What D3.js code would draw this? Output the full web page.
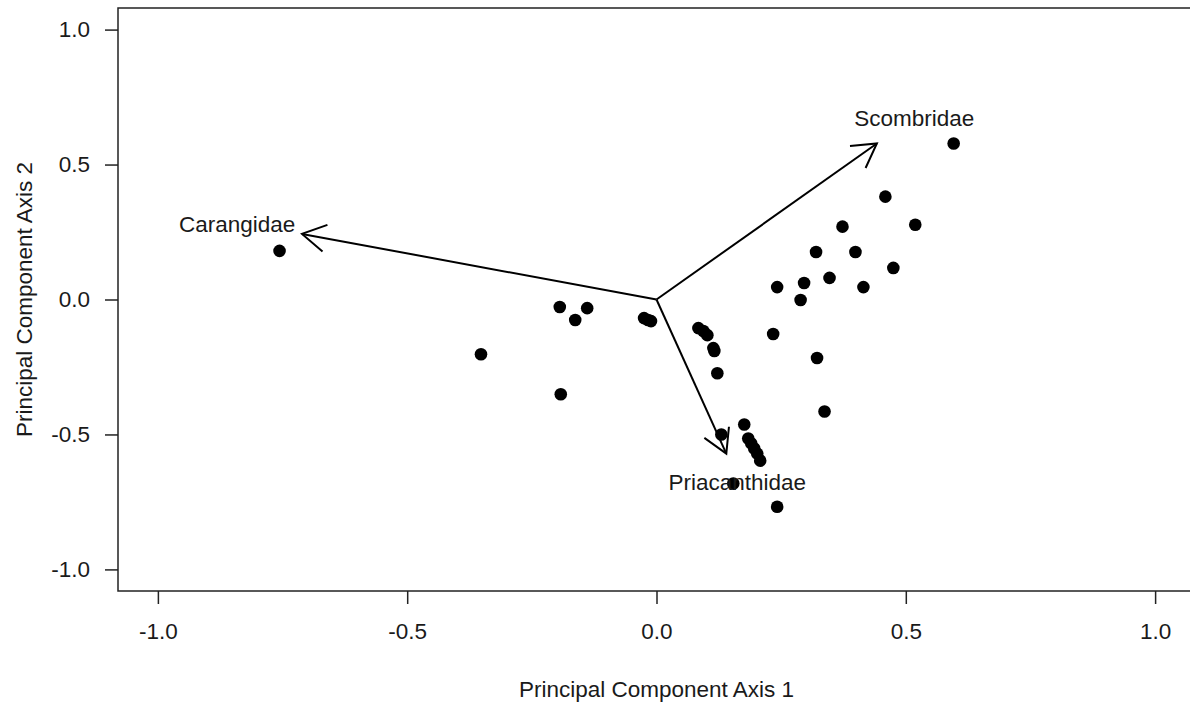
<!DOCTYPE html>
<html>
<head>
<meta charset="utf-8">
<script src="https://cdn.jsdelivr.net/npm/d3@7"></script>
<style>
  body { margin: 0; background: #fff; }
  text { font-family: "Liberation Sans", Arial, sans-serif; fill: #1a1a1a; }
</style>
</head>
<body>
<svg width="1190" height="705"></svg>
<script>
// site scores (PC1, PC2)
const pc1 = [-0.756, -0.352, -0.194, -0.163, -0.139, -0.192, -0.025, -0.017, -0.011,
  0.084, 0.094, 0.102, 0.114, 0.116, 0.122, 0.130, 0.176, 0.184, 0.190, 0.196, 0.202,
  0.208, 0.154, 0.242, 0.234, 0.322, 0.337, 0.596, 0.459, 0.373, 0.519, 0.320, 0.399,
  0.475, 0.347, 0.296, 0.415, 0.242, 0.289];
const pc2 = [0.180, -0.203, -0.028, -0.076, -0.032, -0.351, -0.069, -0.076, -0.080,
  -0.106, -0.117, -0.132, -0.180, -0.191, -0.273, -0.500, -0.463, -0.515, -0.533, -0.552, -0.571,
  -0.597, -0.682, -0.768, -0.128, -0.217, -0.415, 0.578, 0.381, 0.270, 0.277, 0.176, 0.176,
  0.117, 0.080, 0.061, 0.046, 0.046, -0.002];

// family loadings
const families = ["Scombridae", "Carangidae", "Priacanthidae"];
const loadX = [0.442, -0.711, 0.140];
const loadY = [0.578, 0.243, -0.571];
const labelX = [0.517, -0.841, 0.162];
const labelY = [0.671, 0.281, -0.675];

const tickVals = [-1.0, -0.5, 0.0, 0.5, 1.0];

const svg = d3.select("svg");
const mLeft = 118, mTop = 8, mRight = 1195, mBottom = 591;
const fs = "22.5px";

const x = d3.scaleLinear().domain([-1.08, 1.08]).range([mLeft, mRight]);
const y = d3.scaleLinear().domain([-1.08, 1.08]).range([mBottom, mTop]);

const fmt = d => d.toFixed(1);

// axes
const gx = svg.append("g")
  .attr("transform", `translate(0,${mBottom})`)
  .call(d3.axisBottom(x).tickValues(tickVals).tickFormat(fmt).tickSize(13).tickPadding(19));
const gy = svg.append("g")
  .attr("transform", `translate(${mLeft},0)`)
  .call(d3.axisLeft(y).tickValues(tickVals).tickFormat(fmt).tickSize(13).tickPadding(15));
[gx, gy].forEach(g => {
  g.select(".domain").remove();
  g.selectAll(".tick line").attr("stroke", "#222").attr("stroke-width", 1.5);
  g.selectAll(".tick text").style("font-size", fs).attr("fill", "#1a1a1a")
    .style("font-family", "'Liberation Sans', Arial, sans-serif");
});

// box
svg.append("rect")
  .attr("x", mLeft).attr("y", mTop)
  .attr("width", mRight - mLeft).attr("height", mBottom - mTop)
  .attr("fill", "none").attr("stroke", "#222").attr("stroke-width", 1.5);

// axis titles
svg.append("text")
  .attr("x", x(0)).attr("y", 697)
  .attr("text-anchor", "middle").style("font-size", fs)
  .text("Principal Component Axis 1");
svg.append("text")
  .attr("transform", "translate(32," + y(0) + ") rotate(-90)")
  .attr("text-anchor", "middle").style("font-size", fs)
  .text("Principal Component Axis 2");

// points
svg.append("g").selectAll("circle")
  .data(d3.range(pc1.length))
  .join("circle")
  .attr("cx", i => x(pc1[i]))
  .attr("cy", i => y(pc2[i]))
  .attr("r", 6.3)
  .attr("fill", "#000");

// arrows
const headLen = 27, headAng = Math.PI / 6;
const ag = svg.append("g").attr("stroke", "#000").attr("stroke-width", 2).attr("fill", "none");
families.forEach((f, i) => {
  const x0 = x(0), y0 = y(0), x1 = x(loadX[i]), y1 = y(loadY[i]);
  ag.append("line").attr("x1", x0).attr("y1", y0).attr("x2", x1).attr("y2", y1);
  const a = Math.atan2(y1 - y0, x1 - x0);
  const p = [a + Math.PI - headAng, a + Math.PI + headAng]
    .map(t => [x1 + headLen * Math.cos(t), y1 + headLen * Math.sin(t)]);
  ag.append("path")
    .attr("d", `M${p[0][0]},${p[0][1]}L${x1},${y1}L${p[1][0]},${p[1][1]}`);
  svg.append("text")
    .attr("x", x(labelX[i])).attr("y", y(labelY[i]))
    .attr("dy", "0.35em")
    .attr("text-anchor", "middle").style("font-size", fs)
    .text(f);
});
</script>
</body>
</html>
